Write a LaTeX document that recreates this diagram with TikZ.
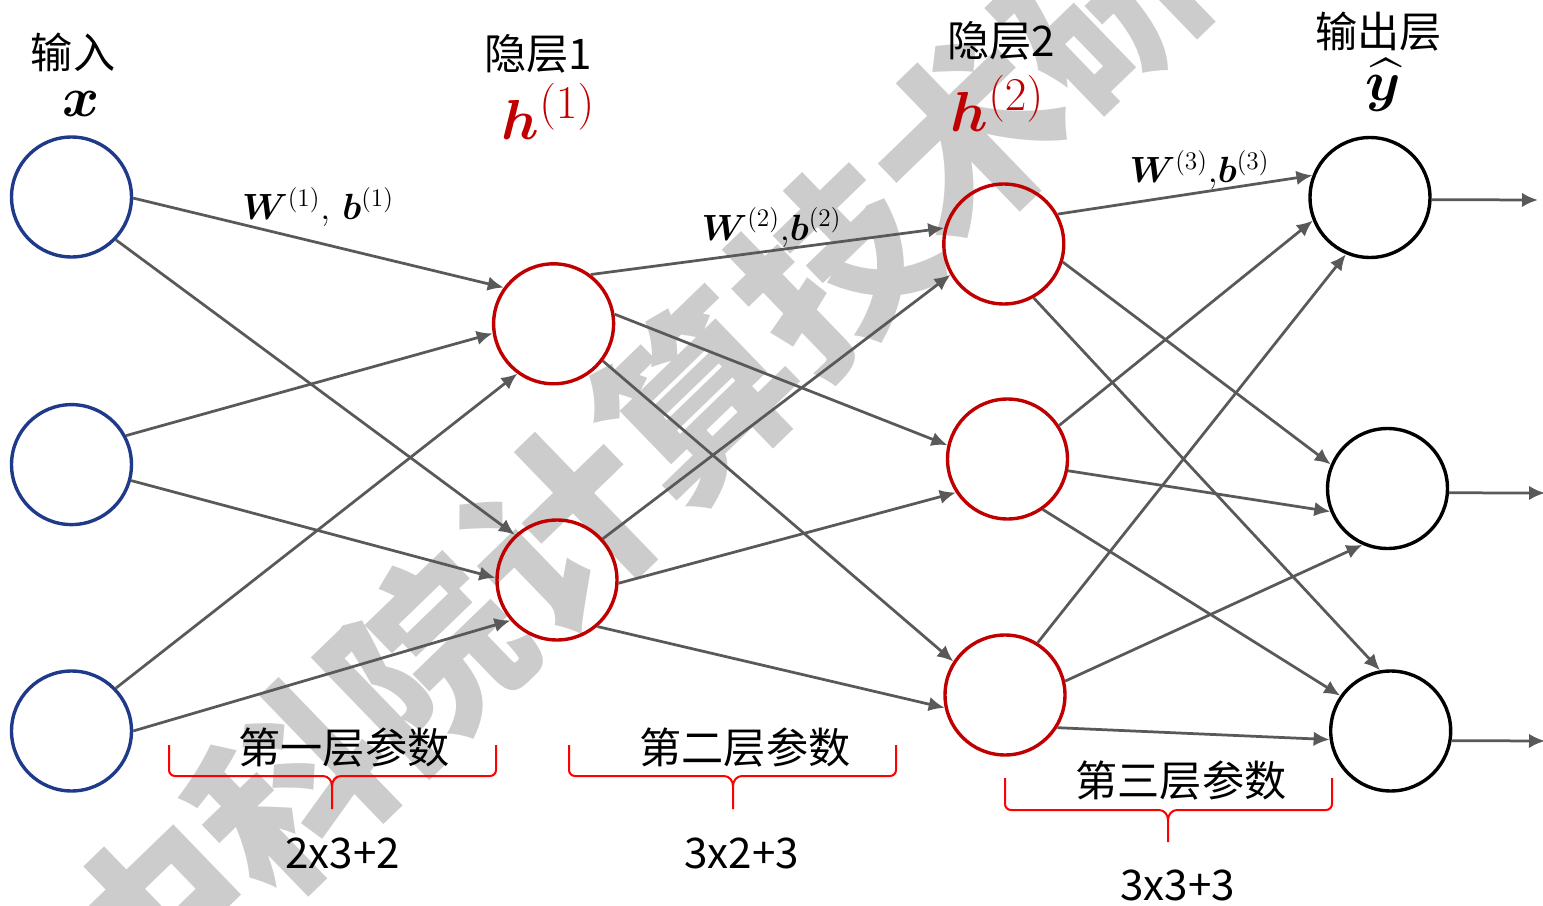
\documentclass[tikz,border=0pt]{standalone}
\usepackage{fontspec}
\usepackage{amsmath}
\usepackage{bm}
\newfontfamily\cjk{Noto Sans CJK SC}
\usetikzlibrary{arrows.meta}
\definecolor{myblue}{RGB}{31,58,138}
\definecolor{myred}{RGB}{192,0,0}
\definecolor{bracered}{RGB}{255,0,0}
\definecolor{mygray}{RGB}{89,89,89}
\definecolor{wmgray}{RGB}{204,204,204}
\tikzset{
  >=latex,
  neuron/.style={circle,draw,line width=0.068cm,minimum size=2.4cm,inner sep=0},
  neuron in/.style={neuron,draw=myblue},
  neuron hidden/.style={neuron,draw=myred},
  neuron out/.style={neuron,draw=black},
  connect arrow/.style={-{Latex[length=0.32cm,width=0.29cm]},line width=0.055cm,mygray},
  brace line/.style={bracered,line width=0.04cm},
  layer label/.style={font=\cjk\fontsize{24}{28}\selectfont,inner sep=0},
  vec label/.style={font=\Huge,scale=1.29,inner sep=0},
  param label/.style={font=\huge,inner sep=0},
  watermark/.style={font=\cjk\bfseries\fontsize{107}{110}\selectfont,text=wmgray,inner sep=0}
}
% red brace under a group of weights: left x, right x, tip x, top y, line y, tip end y
\newcommand{\layerbrace}[6]{%
  \draw[brace line] (#1,#4) -- (#1,#5-6) to[out=-90,in=180] (#1+6,#5)
     -- (#3-9,#5) to[out=0,in=90] (#3,#5+10) -- (#3,#6);
  \draw[brace line] (#3,#5+10) to[out=90,in=180] (#3+9,#5)
     -- (#2-6,#5) to[out=0,in=-90] (#2,#5-6) -- (#2,#4);}
\begin{document}
\begin{tikzpicture}[x=0.02cm,y=-0.02cm]
  \useasboundingbox (0,0) rectangle (1543,906);
  % Watermark behind everything
  \node[watermark,rotate=44] (wm) at (765,333) {中科院计算技术研究所};
  % Draw input nodes
  \foreach \y [count=\k] in {197,464.6,731}{%
    \node[neuron in] (i\k) at (71.5,\y) {};
  }
  % Draw hidden layer 1
  \foreach \x/\y [count=\k] in {553.6/323.8,557/580}{%
    \node[neuron hidden] (h1\k) at (\x,\y) {};
  }
  % Draw hidden layer 2
  \foreach \x/\y [count=\k] in {1003.8/244,1007.5/459,1005/695}{%
    \node[neuron hidden] (h2\k) at (\x,\y) {};
  }
  % Draw output nodes
  \foreach \x/\y [count=\k] in {1370/197.5,1387.5/488.5,1390.7/731}{%
    \node[neuron out] (o\k) at (\x,\y) {};
  }
  % Edges between layers
  \foreach \a/\sa/\b/\ea in {i1/-1/h11/144,i1/-44/h12/133,i2/28/h11/189,
      i2/-15/h12/178,i3/44/h11/234,i3/0/h12/221,
      h11/53/h21/165,h11/9/h22/167,h11/-37/h23/147,
      h12/42/h21/210,h12/-3/h22/213,h12/-49/h23/192,
      h21/29/o1/159,h21/-17/o2/157,h21/-61/o3/100,
      h22/33/o1/202,h22/-11/o2/202,h22/-55/o3/145,
      h23/58/o1/247,h23/13/o2/246,h23/-32/o3/188}{%
    \draw[connect arrow] (\a.\sa) -- (\b.\ea);
  }
  % Outputs
  \foreach \k/\ang/\x/\y in {1/-2/1538/200,2/-4/1545/493,3/-9/1545/741}{%
    \coordinate (out\k) at (\x,\y);
    \draw[connect arrow] (o\k.\ang) -- (out\k);
  }
  % Layer labels
  \node[layer label] (lin) at (73,52) {输入};
  \node[vec label] (vx) at (81,103.5) {$\bm{x}$};
  \node[layer label] (lh1) at (538,53.5) {隐层1};
  \node[vec label,text=myred] (vh1) at (548.5,111.5) {$\bm{h}^{(1)}$};
  \node[layer label] (lh2) at (1001.5,41) {隐层2};
  \node[vec label,text=myred] (vh2) at (997.5,103.5) {$\bm{h}^{(2)}$};
  \node[layer label] (lout) at (1378.5,31.5) {输出层};
  \node[vec label] (vy) at (1383,85) {$\widehat{\bm{y}}$};
  % Weight labels
  \node[param label] (p1) at (318,207) {$\bm{W}^{(1)},\,\bm{b}^{(1)}$};
  \node[param label] (p2) at (771.5,227.5) {$\bm{W}^{(2)}{,}\bm{b}^{(2)}$};
  \node[param label] (p3) at (1199.5,170) {$\bm{W}^{(3)}{,}\bm{b}^{(3)}$};
  % Parameter braces and counts
  \layerbrace{169}{496}{332}{745}{776}{809}
  \layerbrace{569}{896}{733}{745}{776}{809}
  \layerbrace{1005}{1332}{1168}{778}{810}{842}
  \node[layer label] (c1) at (344,747.5) {第一层参数};
  \node[layer label] (c2) at (745,747.5) {第二层参数};
  \node[layer label] (c3) at (1181,781) {第三层参数};
  \node[layer label] (n1) at (342.5,853) {2x3+2};
  \node[layer label] (n2) at (741.5,853) {3x2+3};
  \node[layer label] (n3) at (1177.5,885) {3x3+3};
\end{tikzpicture}
\end{document}
